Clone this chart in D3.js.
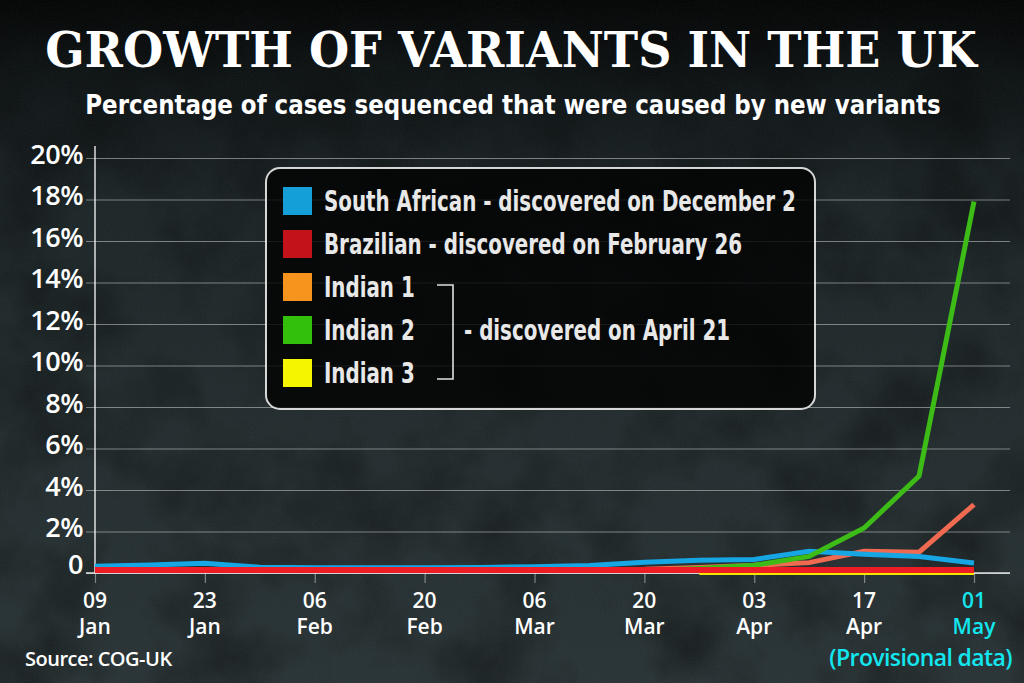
<!DOCTYPE html>
<html><head><meta charset="utf-8">
<script src="https://cdn.jsdelivr.net/npm/d3@7"></script>
<style>html,body{margin:0;padding:0;background:#151c1e;} svg{display:block}</style>
</head><body>
<svg id="chart" width="1024" height="683"></svg>
<script>
// ---------- DATA ----------
const dates = ["2021-01-09","2021-01-16","2021-01-23","2021-01-30","2021-02-06","2021-02-13",
  "2021-02-20","2021-02-27","2021-03-06","2021-03-13","2021-03-20","2021-03-27","2021-04-03",
  "2021-04-10","2021-04-17","2021-04-24","2021-05-01"];
const tickDates = ["2021-01-09","2021-01-23","2021-02-06","2021-02-20","2021-03-06",
  "2021-03-20","2021-04-03","2021-04-17","2021-05-01"];
const yTicks = [0,2,4,6,8,10,12,14,16,18,20];
const southAfrican = [0.32,0.38,0.47,0.28,0.25,0.25,0.25,0.27,0.3,0.36,0.52,0.62,0.65,1.05,0.9,0.8,0.48];
const brazilian    = [0.15,0.15,0.15,0.15,0.15,0.15,0.15,0.15,0.15,0.15,0.15,0.15,0.15,0.15,0.15,0.15,0.15];
const indian1      = [null,null,null,null,null,null,null,null,0.12,0.15,0.18,0.27,0.37,0.5,1.05,1.0,3.3];
const indian2      = [null,null,null,null,null,null,null,null,null,null,0.12,0.22,0.37,0.8,2.17,4.67,17.9];
const indian3      = [null,null,null,null,null,null,null,null,null,null,null,0,0,0,0,0,0];
const legendLabels = ["South African - discovered on December 2","Brazilian - discovered on February 26",
  "Indian 1","Indian 2","Indian 3"];
const legendColors = ["#149fd9","#c4121a","#f7941d","#33c00d","#f5f500"];
const groupNote = "- discovered on April 21";
const titleText = "GROWTH OF VARIANTS IN THE UK";
const subtitleText = "Percentage of cases sequenced that were caused by new variants";
const sourceText = "Source: COG-UK";
const provisionalText = "(Provisional data)";

// ---------- SETUP ----------
const parse = d3.timeParse("%Y-%m-%d");
const svg = d3.select("#chart");
const W = 1024, H = 683;
const defs = svg.append("defs");

const bg = defs.append("linearGradient").attr("id","bg").attr("x1",0).attr("y1",0).attr("x2",0).attr("y2",1);
[[0,"#020303"],[0.1,"#0b1011"],[0.3,"#1a2325"],[1,"#273133"]].forEach(([o,c])=>bg.append("stop").attr("offset",o).attr("stop-color",c));
const f = defs.append("filter").attr("id","tex").attr("x",0).attr("y",0).attr("width","100%").attr("height","100%");
f.append("feTurbulence").attr("type","fractalNoise").attr("baseFrequency","0.011").attr("numOctaves",4).attr("seed",7);
f.append("feColorMatrix").attr("type","matrix").attr("values","0 0 0 0 0  0 0 0 0 0  0 0 0 0 0  1.6 0 0 0 -0.65");
const f2 = defs.append("filter").attr("id","grain").attr("x",0).attr("y",0).attr("width","100%").attr("height","100%");
f2.append("feTurbulence").attr("type","fractalNoise").attr("baseFrequency","0.8").attr("numOctaves",1).attr("seed",2);
f2.append("feColorMatrix").attr("type","matrix").attr("values","0 0 0 0 0.6  0 0 0 0 0.65  0 0 0 0 0.65  0 0 0 0.12 0");

svg.append("rect").attr("width",W).attr("height",H).attr("fill","url(#bg)");
svg.append("rect").attr("width",W).attr("height",H).attr("fill","#000").attr("filter","url(#tex)").attr("opacity",0.55);
svg.append("rect").attr("width",W).attr("height",H).attr("filter","url(#grain)").attr("opacity",0.6);

const condensed = "'Liberation Sans Narrow','DejaVu Sans Condensed','Open Sans',sans-serif";
const axisFont = "'Open Sans','Noto Sans',sans-serif";

function fitText(sel, target){
  const w = sel.node().getComputedTextLength();
  return w > 0 ? target / w : 1;
}

// ---------- TITLES ----------
const tG = svg.append("g");
const tT = tG.append("text").attr("text-anchor","middle").attr("fill","#fff")
  .attr("font-family","'DejaVu Serif','Liberation Serif',serif").attr("font-weight","bold")
  .attr("font-size",49).text(titleText);
tG.attr("transform",`translate(511,67) scale(${fitText(tT,932)},1)`);

const sG = svg.append("g");
const sT = sG.append("text").attr("text-anchor","middle").attr("fill","#fff")
  .attr("font-family",condensed).attr("font-weight","bold").attr("font-size",27).text(subtitleText);
sG.attr("transform",`translate(513,114) scale(${fitText(sT,856)},1)`);

// ---------- SCALES ----------
const x = d3.scaleTime().domain([parse(dates[0]), parse(dates[dates.length-1])]).range([95, 974]);
const y = d3.scaleLinear().domain([0,20]).range([573,158]);
const axisLeftX = 95, axisRightX = 1010, gridTop = 146;

// horizontal grid + y labels
const yG = svg.append("g").attr("transform",`translate(${axisLeftX},0)`)
  .call(d3.axisLeft(y).tickValues(yTicks).tickSize(-(axisRightX-axisLeftX))
    .tickFormat(d => d===0 ? "0" : d+"%"));
yG.select(".domain").remove();
yG.selectAll(".tick line").attr("x1",-9).attr("stroke","rgba(255,255,255,0.42)").attr("stroke-width",1.2);
yG.selectAll(".tick text").attr("x",-12).attr("dy",d => d===0 ? "0.0em" : "0.2em").attr("fill","#fff")
  .attr("font-family",axisFont).attr("font-weight",600).attr("font-size",27).style("letter-spacing","-0.5px");

// vertical grid
const xG = svg.append("g").attr("transform",`translate(0,${y(0)})`)
  .call(d3.axisBottom(x).tickValues(tickDates.map(parse)).tickSize(-(y(0)-gridTop)).tickFormat(""));
xG.select(".domain").remove();
xG.selectAll(".tick line").attr("y2",10).attr("stroke","rgba(255,255,255,0.42)").attr("stroke-width",1.2);
xG.selectAll(".tick text").remove();

// x labels (two separate lines)
const fmtKey = d3.timeFormat("%Y-%m-%d");
const lastTick = tickDates[tickDates.length-1];
const xl = svg.append("g").attr("font-family",axisFont).attr("font-weight",600).attr("font-size",21)
  .attr("text-anchor","middle");
tickDates.map(parse).forEach(d=>{
  const col = fmtKey(d)===lastTick ? "#13e6ee" : "#fff";
  xl.append("text").attr("x",x(d)).attr("y",608).attr("fill",col).text(d3.timeFormat("%d")(d));
  xl.append("text").attr("x",x(d)).attr("y",634).attr("fill",col).text(d3.timeFormat("%b")(d));
});

// axis lines
svg.append("line").attr("x1",axisLeftX).attr("x2",axisLeftX).attr("y1",gridTop).attr("y2",y(0))
  .attr("stroke","rgba(255,255,255,0.85)").attr("stroke-width",1.5);
svg.append("line").attr("x1",86).attr("x2",axisRightX).attr("y1",y(0)).attr("y2",y(0))
  .attr("stroke","rgba(255,255,255,0.85)").attr("stroke-width",1.5);

// ---------- LINES ----------
const line = d3.line().defined(d => d.v !== null).x(d => x(parse(d.d))).y(d => y(d.v));
const series = [
  {vals: indian3, color:"#f2e600", w:4},
  {vals: indian1, color:"#ef6a50", w:5},
  {vals: southAfrican, color:"#16a6e4", w:5},
  {vals: indian2, color:"#3dbb16", w:5},
  {vals: brazilian, color:"#ee1c24", w:6}
];
series.forEach(s=>{
  svg.append("path").datum(dates.map((d,i)=>({d, v:s.vals[i]})))
    .attr("d", line).attr("fill","none").attr("stroke", s.color).attr("stroke-width", s.w)
    .attr("stroke-linejoin","miter");
});

// ---------- LEGEND ----------
const lg = svg.append("g");
lg.append("rect").attr("x",266).attr("y",168).attr("width",549).attr("height",241).attr("rx",14)
  .attr("fill","rgba(2,3,3,0.82)").attr("stroke","rgba(235,235,235,0.9)").attr("stroke-width",2);
const rowY = i => 201 + i*43;
let k = 1;
legendLabels.forEach((lab,i)=>{
  lg.append("rect").attr("x",283).attr("y",rowY(i)-14).attr("width",29).attr("height",28).attr("fill",legendColors[i]);
  const g = lg.append("g").attr("class","lt").attr("data-y",rowY(i)+10);
  const t = g.append("text").attr("fill","#e8e8e8").attr("font-family",condensed).attr("font-weight","bold")
    .attr("font-size",29).text(lab);
  if(i===0) k = fitText(t,472);
});
lg.selectAll("g.lt").each(function(){
  const g = d3.select(this);
  g.attr("transform",`translate(324,${g.attr("data-y")}) scale(${k},1)`);
});
lg.append("path").attr("d",`M437,${rowY(2)-2}H453V${rowY(4)+6}H437`).attr("fill","none")
  .attr("stroke","#e0e0e0").attr("stroke-width",1.6);
lg.append("g").attr("transform",`translate(464,${rowY(3)+10}) scale(${k},1)`)
  .append("text").attr("fill","#e8e8e8").attr("font-family",condensed).attr("font-weight","bold")
  .attr("font-size",29).text(groupNote);

// ---------- FOOTER ----------
svg.append("text").attr("x",25).attr("y",666).attr("fill","#fff").attr("font-family",axisFont)
  .attr("font-weight",600).attr("font-size",20).style("letter-spacing","-0.5px").text(sourceText);
svg.append("text").attr("x",1012).attr("y",666).attr("text-anchor","end").attr("fill","#13e6ee")
  .attr("font-family",axisFont).attr("font-weight",600).attr("font-size",23).style("letter-spacing","-0.6px").text(provisionalText);
</script>
</body></html>
